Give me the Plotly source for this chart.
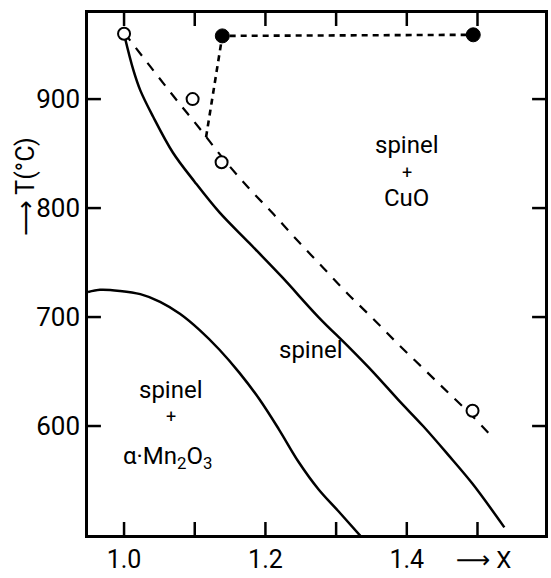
import plotly.graph_objects as go

# ---- data ----
upper_solid_x = [1.001, 1.013, 1.023, 1.041, 1.069, 1.100, 1.135, 1.177, 1.223, 1.275, 1.317, 1.353, 1.388, 1.423, 1.458, 1.493, 1.538]
upper_solid_T = [957, 927, 908, 884, 851, 824, 796, 768, 737, 700, 673, 649, 624, 600, 574, 547, 507]

lower_solid_x = [0.949, 0.966, 0.994, 1.023, 1.051, 1.079, 1.107, 1.135, 1.163, 1.191, 1.219, 1.247, 1.275, 1.303, 1.336]
lower_solid_T = [723, 725, 724, 721, 714, 703, 688, 670, 649, 625, 597, 567, 542, 522, 498]

dashed_x = [1.000, 1.037, 1.072, 1.107, 1.142, 1.177, 1.212, 1.247, 1.282, 1.317, 1.353, 1.388, 1.423, 1.458, 1.493, 1.518]
dashed_T = [961, 930, 901, 873, 844, 818, 794, 769, 745, 721, 698, 675, 653, 631, 609, 592]

open_x = [1.000, 1.097, 1.138, 1.493]
open_T = [960, 900, 842, 614]

filled_x = [1.139, 1.494]
filled_T = [958, 959]

path_x = [1.116, 1.139, 1.494]
path_T = [865, 958, 959]

x_tickvals = [1.0, 1.2, 1.4]
x_ticktext = ["1.0", "1.2", "1.4"]
x_all_tick_positions = [1.0, 1.1, 1.2, 1.3, 1.4, 1.5]
y_tickvals = [600, 700, 800, 900]
y_ticktext = ["600", "700", "800", "900"]

FONT = "Roboto, DejaVu Sans, sans-serif"
W, H = 551, 578
ML, MR, MT, MB = 88, 3, 13, 43
TICK_PX = 13

fig = go.Figure()
fig.add_trace(go.Scatter(x=upper_solid_x, y=upper_solid_T, mode="lines",
                         line=dict(color="black", width=2.5, shape="spline", smoothing=1.0)))
fig.add_trace(go.Scatter(x=lower_solid_x, y=lower_solid_T, mode="lines",
                         line=dict(color="black", width=2.5, shape="spline", smoothing=1.0)))
fig.add_trace(go.Scatter(x=dashed_x, y=dashed_T, mode="lines",
                         line=dict(color="black", width=2.2, dash="10px,9px", shape="spline", smoothing=1.0)))
fig.add_trace(go.Scatter(x=path_x, y=path_T, mode="lines",
                         line=dict(color="black", width=2.6, dash="6px,5px")))
fig.add_trace(go.Scatter(x=open_x, y=open_T, mode="markers",
                         marker=dict(symbol="circle", size=12, color="white",
                                     line=dict(color="black", width=2))))
fig.add_trace(go.Scatter(x=filled_x, y=filled_T, mode="markers",
                         marker=dict(symbol="circle", size=14, color="black",
                                     line=dict(color="black", width=1))))

labels = [
    (1.400, 858, "spinel", 24), (1.400, 833, "+", 18), (1.400, 809, "CuO", 24),
    (1.265, 670, "spinel", 24),
    (1.067, 633, "spinel", 24), (1.066, 609, "+", 18), (1.062, 571, "α·Mn<sub>2</sub>O<sub>3</sub>", 24),
]
for lx, ly, lt, fs in labels:
    fig.add_annotation(x=lx, y=ly, text=lt, showarrow=False, xref="x", yref="y",
                       font=dict(family=FONT, size=fs, color="black"))

fig.add_annotation(text="⟶ T(°C)", textangle=-90, showarrow=False,
                   xref="paper", yref="paper", x=-0.137, y=0.667,
                   xanchor="center", yanchor="middle",
                   font=dict(family=FONT, size=25, color="black"))
fig.add_annotation(text="⟶ X", showarrow=False,
                   xref="paper", yref="paper", x=0.865, y=-0.0785,
                   xanchor="center", yanchor="bottom",
                   font=dict(family=FONT, size=24, color="black"))

# inward tick marks on all four sides, placed at the tick positions
plot_w = W - ML - MR
plot_h = H - MT - MB
fx = TICK_PX / plot_h
fy = TICK_PX / plot_w
for v in x_all_tick_positions:
    fig.add_shape(type="line", xref="x", yref="paper", x0=v, x1=v, y0=0, y1=fx,
                  line=dict(color="black", width=2.5), layer="above")
    fig.add_shape(type="line", xref="x", yref="paper", x0=v, x1=v, y0=1, y1=1 - fx,
                  line=dict(color="black", width=2.5), layer="above")
for v in y_tickvals:
    fig.add_shape(type="line", xref="paper", yref="y", x0=0, x1=fy, y0=v, y1=v,
                  line=dict(color="black", width=2.5), layer="above")
    fig.add_shape(type="line", xref="paper", yref="y", x0=1, x1=1 - fy, y0=v, y1=v,
                  line=dict(color="black", width=2.5), layer="above")

fig.update_layout(width=W, height=H,
                  margin=dict(l=ML, r=MR, t=MT, b=MB),
                  plot_bgcolor="white", paper_bgcolor="white",
                  showlegend=False,
                  font=dict(family=FONT, size=24, color="black"))
fig.update_xaxes(range=[0.949, 1.5955], tickmode="array", tickvals=x_tickvals, ticktext=x_ticktext,
                 ticks="", showline=True, linewidth=2.5, linecolor="black", mirror=True,
                 showgrid=False, zeroline=False, tickfont=dict(family=FONT, size=25, color="black"))
fig.update_yaxes(range=[500, 979], tickmode="array", tickvals=y_tickvals, ticktext=y_ticktext,
                 ticks="", showline=True, linewidth=2.5, linecolor="black", mirror=True,
                 showgrid=False, zeroline=False, tickfont=dict(family=FONT, size=26, color="black"))

fig.write_html("out.html")
